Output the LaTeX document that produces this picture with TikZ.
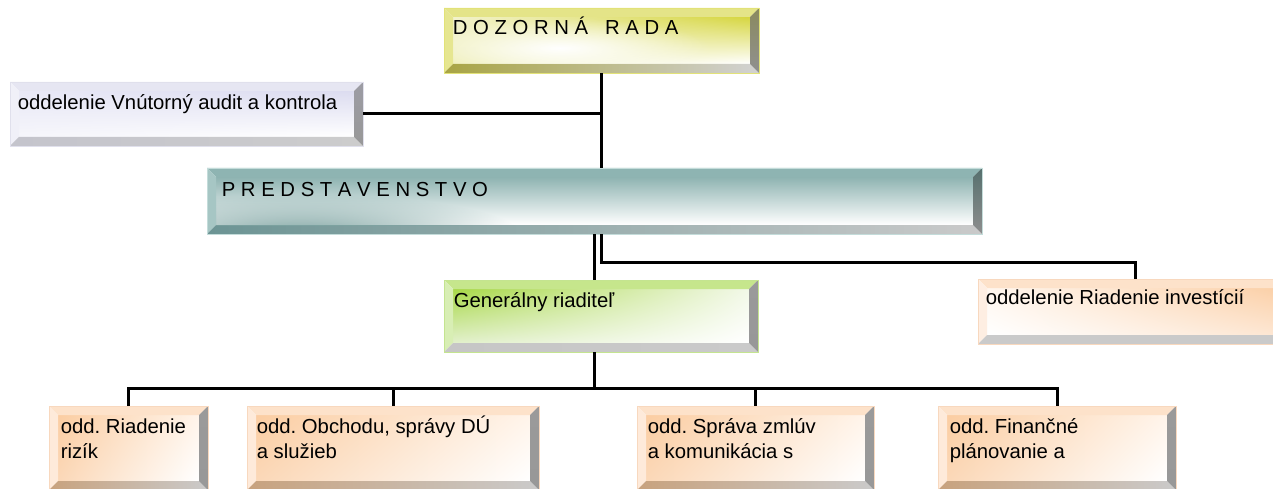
\documentclass[tikz,border=0pt]{standalone}
\usepackage{fontspec}
\setmainfont{Liberation Sans}
\frenchspacing
\usetikzlibrary{fit,shadings,fadings}
\tikzfading[name=blobfade, inner color=transparent!0, outer color=transparent!100]
% yellow (Dozorna rada)
\definecolor{dzT}{HTML}{E4E488}\definecolor{dzL}{HTML}{E6E690}
\definecolor{dzB}{HTML}{A8A444}\definecolor{dzBR}{HTML}{D2D2D2}
\definecolor{dzR}{HTML}{8A8A5E}\definecolor{dzRB}{HTML}{909090}
\definecolor{dzE}{HTML}{E2E278}
% lavender (audit)
\definecolor{auT}{HTML}{E6E6F2}\definecolor{auL}{HTML}{F0F0F8}
\definecolor{auB}{HTML}{C4C4CC}\definecolor{auBR}{HTML}{CCCCCC}
\definecolor{auR}{HTML}{9C9CA4}\definecolor{auRB}{HTML}{989898}
\definecolor{auE}{HTML}{E0E0EC}
% teal (predstavenstvo)
\definecolor{prT}{HTML}{8EB4B2}\definecolor{prL}{HTML}{A6C6C4}
\definecolor{prB}{HTML}{6C9494}\definecolor{prBR}{HTML}{CACACA}
\definecolor{prR}{HTML}{56706E}\definecolor{prRB}{HTML}{8E8E8E}
\definecolor{prE}{HTML}{C4DCDA}
% green (generalny riaditel)
\definecolor{grT}{HTML}{C6E68C}\definecolor{grL}{HTML}{D8EEB4}
\definecolor{grB}{HTML}{C6C6C6}\definecolor{grBR}{HTML}{CACACA}
\definecolor{grR}{HTML}{9A9A9A}\definecolor{grRB}{HTML}{989898}
\definecolor{grE}{HTML}{C4E490}
% orange (oddelenia)
\definecolor{orT}{HTML}{FDE2CA}\definecolor{orL}{HTML}{FEEADA}
\definecolor{orB}{HTML}{C8A27E}\definecolor{orBR}{HTML}{CACACA}
\definecolor{orR}{HTML}{9A9A9A}\definecolor{orRB}{HTML}{989898}
\definecolor{orE}{HTML}{F8D8BE}
% orange (investicie)
\definecolor{ivT}{HTML}{FDE2CA}\definecolor{ivL}{HTML}{FEEEE2}
\definecolor{ivB}{HTML}{CACACA}\definecolor{ivBR}{HTML}{CACACA}
\definecolor{ivR}{HTML}{9A9A9A}\definecolor{ivRB}{HTML}{989898}
\definecolor{ivE}{HTML}{F8D8BE}
\tikzset{
  dzface/.style={upper left=dzUL, upper right=dzUR, lower left=dzLL, lower right=white},
  auface/.style={upper left=auUL, upper right=auUR, lower left=auLL, lower right=white},
  prface/.style={shading=axis, top color=prTop, middle color=prMid, bottom color=white},
  grface/.style={upper left=grUL, upper right=grUR, lower left=grLL, lower right=white},
  orface/.style={upper left=orUL, upper right=orUR, lower left=orLL, lower right=white},
  ivface/.style={upper left=ivUL, upper right=ivUR, lower left=white, lower right=ivLR},
  txt/.style={font=\fontsize{20.3}{25}\selectfont, inner sep=0pt, anchor=base west, align=left},
  conn/.style={draw=black, line width=3pt}
}
\definecolor{dzUL}{HTML}{F2F2CC}\definecolor{dzUR}{HTML}{D6D640}\definecolor{dzLL}{HTML}{EEEEB4}
\definecolor{auUL}{HTML}{E8E8F6}\definecolor{auUR}{HTML}{DCDCF0}\definecolor{auLL}{HTML}{F6F6FB}
\definecolor{prTop}{HTML}{8EB3B1}\definecolor{prMid}{HTML}{E2ECEC}\definecolor{prBlob}{HTML}{7EA4A2}
\definecolor{grUL}{HTML}{A8D848}\definecolor{grUR}{HTML}{F2F8E8}\definecolor{grLL}{HTML}{E2F0CC}
\definecolor{orUL}{HTML}{FBCDA2}\definecolor{orUR}{HTML}{FFF4EA}\definecolor{orLL}{HTML}{FBD8B8}
\definecolor{ivUL}{HTML}{FFF6EE}\definecolor{ivUR}{HTML}{FBCFA6}\definecolor{ivLR}{HTML}{FDE6D2}
\newcommand\bevbox[6]{%
  \shade[#6face] (#2+9,#3+9) rectangle (#4-9,#5-9);
  \fill[#6T] (#2,#3) -- (#4,#3) -- (#4-9,#3+9) -- (#2+9,#3+9) -- cycle;
  \fill[#6L] (#2,#3) -- (#2+9,#3+9) -- (#2+9,#5-9) -- (#2,#5) -- cycle;
  \shade[left color=#6B, right color=#6BR]
    (#2,#5) -- (#2+9,#5-9) -- (#4-9,#5-9) -- (#4,#5) -- cycle;
  \shade[top color=#6R, bottom color=#6RB]
    (#4,#3) -- (#4,#5) -- (#4-9,#5-9) -- (#4-9,#3+9) -- cycle;
  \node[fit={(#2,#3) (#4,#5)}, inner sep=0pt, draw=#6E, line width=0.8pt] (#1) {};
}
% soft blob of colour #1 centred at #2 with radii #3, #4, clipped to face #5..#8
\newcommand\faceblob[8]{%
  \begin{scope}
    \clip (#5+9,#6+9) rectangle (#7-9,#8-9);
    \fill[#1, path fading=blobfade] (#2) ellipse [x radius=#3, y radius=#4];
  \end{scope}
}
\begin{document}
\begin{tikzpicture}[x=1pt,y=-1pt]
\useasboundingbox (0,0) rectangle (1273,489);
\clip (0,0) rectangle (1273,489);
% boxes
\bevbox{dz}{444}{8}{759}{73}{dz}
\faceblob{white}{560,48}{150}{30}{444}{8}{759}{73}
\bevbox{au}{10}{82}{363}{146}{au}
\bevbox{pr}{207}{168}{982}{234}{pr}
\faceblob{prBlob}{300,234}{220}{40}{207}{168}{982}{234}
\bevbox{gr}{444}{280}{758}{352}{gr}
\bevbox{iv}{978}{279}{1292}{344}{iv}
\bevbox{b1}{49}{406}{208}{490}{or}
\bevbox{b2}{247}{406}{539}{490}{or}
\bevbox{b3}{637}{406}{874}{490}{or}
\bevbox{b4}{938}{406}{1176}{490}{or}
% texts
\node[txt] (dzt) at ([shift={(9,27)}]dz.north west) {D O Z O R N Á\ \ \ R A D A};
\node[txt] (aut) at ([shift={(8,28)}]au.north west) {oddelenie Vnútorný audit a kontrola};
\node[txt] (prt) at ([shift={(15,29)}]pr.north west) {P R E D S T A V E N S T V O};
\node[txt] (grt) at ([shift={(10,28)}]gr.north west) {Generálny riaditeľ};
\node[txt] (ivt) at ([shift={(8,26)}]iv.north west) {oddelenie Riadenie investícií};
\node[txt] (b1t) at ([shift={(12,53)}]b1.north west) {odd. Riadenie\\rizík};
\node[txt] (b2t) at ([shift={(10,53)}]b2.north west) {odd. Obchodu, správy DÚ\\a služieb};
\node[txt] (b3t) at ([shift={(11,53)}]b3.north west) {odd. Správa zmlúv\\a komunikácia s};
\node[txt] (b4t) at ([shift={(12,53)}]b4.north west) {odd. Finančné\\plánovanie a};
% connectors
\coordinate (ij) at (0,262);
\coordinate (bus) at (0,388);
\draw[conn] (dz.south) -- (dz.south |- pr.north);
\draw[conn] (au.east) -- (au.east -| dz.south);
\draw[conn] (pr.south) -- (pr.south |- gr.north);
\draw[conn] (pr.south -| dz.south) -- (dz.south |- ij) -- (iv.north |- ij) -- (iv.north);
\draw[conn] (gr.south -| pr.south) -- (pr.south |- bus);
\draw[conn] (b1.north) -- (b1.north |- bus) -- (b4.north |- bus) -- (b4.north);
\draw[conn] (b2.north) -- (b2.north |- bus);
\draw[conn] (b3.north) -- (b3.north |- bus);
\end{tikzpicture}
\end{document}
